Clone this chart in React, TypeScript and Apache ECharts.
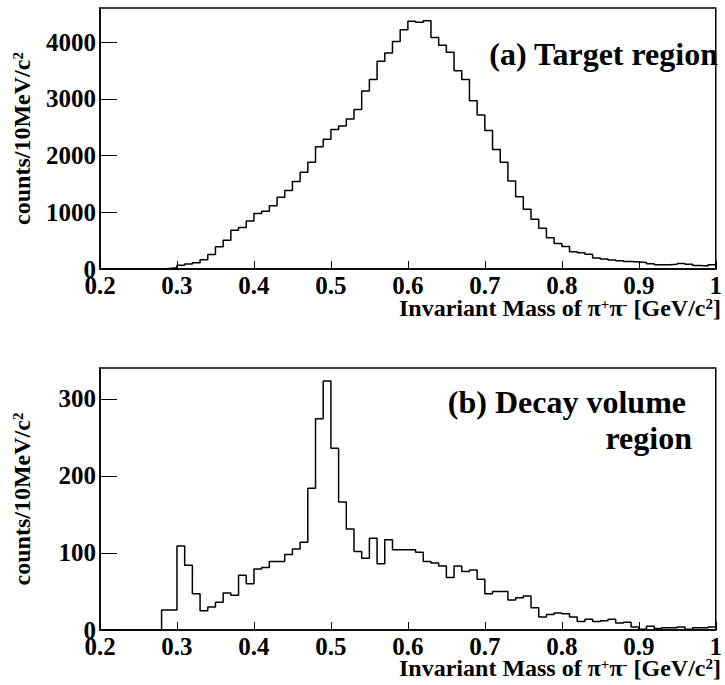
import React, { useEffect, useRef } from "react";
import * as echarts from "echarts";

// Bin low edges: 0.20 ... 0.99 (width 0.01 GeV/c^2), upper edge 1.00
const binWidth = 0.01;
const xMin = 0.2;
const xMax = 1.0;

// (a) Target region counts per bin, 0.20 -> 0.99
const targetCounts: number[] = [
  0, 0, 0, 0, 0, 0, 0, 0, 10, 20,
  65, 88, 112, 162, 255, 390, 508, 685, 730, 845,
  980, 1020, 1115, 1265, 1385, 1540, 1705, 1880, 2155, 2285,
  2460, 2520, 2645, 2810, 3135, 3340, 3660, 3805, 4010, 4215,
  4365, 4350, 4375, 4080, 3945, 3820, 3495, 3340, 2965, 2715,
  2440, 2105, 1880, 1550, 1275, 1055, 875, 720, 550, 450,
  395, 305, 285, 262, 195, 175, 160, 145, 132, 125,
  115, 92, 75, 76, 85, 98, 82, 62, 55, 75,
];

// (b) Decay volume region counts per bin, 0.20 -> 0.99
const decayCounts: number[] = [
  0, 0, 0, 0, 0, 0, 0, 0, 26, 26,
  109, 84, 47, 25, 30, 36, 48, 45, 71, 60,
  79, 81, 89, 89, 98, 105, 114, 184, 274, 323,
  236, 166, 131, 102, 93, 119, 86, 117, 104, 104,
  104, 101, 89, 87, 83, 68, 83, 76, 78, 66,
  47, 50, 50, 39, 42, 44, 29, 17, 20, 22,
  21, 17, 11, 14, 11, 12, 14, 9, 10, 4,
  1, 5, 2, 3, 3, 4, 1, 3, 3, 4,
];

const panelLabels = ["(a) Target region", "(b) Decay volume", "region"];
const xTitle = "Invariant Mass of π{sup|+}π{sup|-} [GeV/c{sup|2}]";
const yTitle = "counts/10MeV/c{sup|2}";

const FONT = "Liberation Serif, Times New Roman, serif";

function toSteps(counts: number[]): number[][] {
  const pts: number[][] = counts.map((c, i) => [
    Math.round((xMin + i * binWidth) * 1000) / 1000,
    c,
  ]);
  pts.push([xMax, counts[counts.length - 1]]);
  return pts;
}

const supRich = {
  sup: {
    fontSize: 15,
    fontFamily: FONT,
    fontWeight: "bold",
    color: "#000",
    verticalAlign: "top",
  },
};

export default function App() {
  const ref = useRef<HTMLDivElement>(null);

  useEffect(() => {
    document.body.style.margin = "0";
    if (!ref.current) return;
    const chart = echarts.init(ref.current, undefined, { renderer: "svg" });

    const grids = [
      { left: 100, top: 8, width: 621, height: 261 },
      { left: 100, top: 368, width: 621, height: 262 },
    ];
    const yMax = [4600, 340];
    const yInterval = [1000, 100];

    const labelStyle = {
      fontFamily: FONT,
      fontWeight: "bold" as const,
      fontSize: 25,
      color: "#000",
    };

    const option: any = {
      animation: false,
      backgroundColor: "#fff",
      grid: grids.map((g) => ({
        ...g,
        show: true,
        borderColor: "#000",
        borderWidth: 1.5,
        backgroundColor: "transparent",
        containLabel: false,
      })),
      xAxis: [0, 1].map((i) => ({
        type: "value",
        gridIndex: i,
        min: xMin,
        max: xMax,
        interval: 0.1,
        axisLine: { show: true, onZero: false, lineStyle: { color: "#000", width: 1.5 } },
        axisTick: { show: true, inside: true, length: 8, lineStyle: { color: "#000", width: 1 } },
        axisLabel: {
          ...labelStyle,
          margin: 4,
          formatter: (v: number) => String(Math.round(v * 10) / 10),
        },
        splitLine: { show: false },
      })),
      yAxis: [0, 1].map((i) => ({
        type: "value",
        gridIndex: i,
        min: 0,
        max: yMax[i],
        interval: yInterval[i],
        axisLine: { show: true, onZero: false, lineStyle: { color: "#000", width: 1.5 } },
        axisTick: { show: true, inside: true, length: 17, lineStyle: { color: "#000", width: 1 } },
        axisLabel: {
          ...labelStyle,
          margin: 4,
          showMaxLabel: false,
          formatter: (v: number) => String(Math.round(v)),
        },
        splitLine: { show: false },
        name: yTitle,
        nameLocation: "middle",
        nameGap: 66,
        nameTextStyle: { ...labelStyle, fontSize: 24, rich: supRich },
      })),
      series: [
        {
          type: "line",
          xAxisIndex: 0,
          yAxisIndex: 0,
          step: "end",
          showSymbol: false,
          symbol: "none",
          lineStyle: { color: "#000", width: 1.5 },
          data: toSteps(targetCounts),
        },
        {
          type: "line",
          xAxisIndex: 1,
          yAxisIndex: 1,
          step: "end",
          showSymbol: false,
          symbol: "none",
          lineStyle: { color: "#000", width: 1.5 },
          data: toSteps(decayCounts),
        },
      ],
      graphic: [
        {
          type: "text",
          x: 718,
          y: 54,
          style: {
            text: panelLabels[0],
            fontFamily: FONT,
            fontWeight: "bold",
            fontSize: 32,
            fill: "#000",
            align: "right",
            verticalAlign: "middle",
          },
        },
        {
          type: "text",
          x: 686,
          y: 402,
          style: {
            text: panelLabels[1],
            fontFamily: FONT,
            fontWeight: "bold",
            fontSize: 32,
            fill: "#000",
            align: "right",
            verticalAlign: "middle",
          },
        },
        {
          type: "text",
          x: 692,
          y: 438,
          style: {
            text: panelLabels[2],
            fontFamily: FONT,
            fontWeight: "bold",
            fontSize: 32,
            fill: "#000",
            align: "right",
            verticalAlign: "middle",
          },
        },
        ...[308, 668].map((y) => ({
          type: "text",
          x: 721,
          y,
          style: {
            text: xTitle,
            fontFamily: FONT,
            fontWeight: "bold",
            fontSize: 24,
            fill: "#000",
            align: "right",
            verticalAlign: "middle",
            rich: supRich,
          },
        })),
      ],
    };

    chart.setOption(option);
    return () => chart.dispose();
  }, []);

  return <div ref={ref} style={{ width: 725, height: 685 }} />;
}
